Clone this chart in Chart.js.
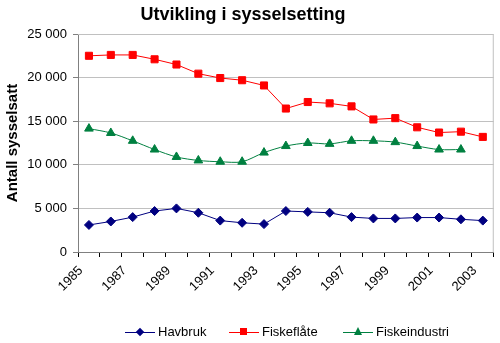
<!DOCTYPE html>
<html>
<head>
<meta charset="utf-8">
<script src="https://cdn.jsdelivr.net/npm/chart.js@4/dist/chart.umd.min.js"></script>
<style>
  html, body { margin: 0; padding: 0; background: #fff; }
  #wrap { position: relative; width: 500px; height: 343px; }
  #legend { position: absolute; left: 0; top: 323px; width: 500px; height: 18px;
    font: 13px "Liberation Sans", Arial, sans-serif; color: #000; }
  .item { position: absolute; top: 0; height: 18px; line-height: 18px; }
  .line { position: absolute; top: 9px; height: 1px; }
  .mark { position: absolute; }
  .txt { position: absolute; top: 0; white-space: nowrap; }
</style>
</head>
<body>
<div id="wrap">
  <canvas id="chart" width="500" height="343"></canvas>
  <div id="legend"></div>
</div>
<script>
const aar = ['1985','1986','1987','1988','1989','1990','1991','1992','1993','1994',
             '1995','1996','1997','1998','1999','2000','2001','2002','2003'];
const havbruk = [3100, 3500, 4000, 4700, 5000, 4500, 3600, 3350, 3200, 4700,
                 4600, 4500, 4000, 3850, 3850, 3950, 3950, 3750, 3600];
const fiskeflate = [22500, 22600, 22600, 22100, 21500, 20450, 19950, 19700, 19100, 16450,
                    17200, 17050, 16700, 15200, 15350, 14300, 13700, 13800, 13200];
const fiskeindustri = [14150, 13650, 12750, 11750, 10900, 10500, 10350, 10350, 11400, 12150,
                       12500, 12400, 12750, 12750, 12600, 12150, 11750, 11750, null];

const fontFam = '"Liberation Sans", Arial, sans-serif';

function tusen(v) {
  return String(v).replace(/\B(?=(\d{3})+(?!\d))/g, ' ');
}

// tittel og ramme rundt plottet
const ekstra = {
  id: 'ekstra',
  beforeDatasetsDraw(chart) {
    const a = chart.chartArea, ctx = chart.ctx;
    ctx.save();
    ctx.strokeStyle = '#c0c0c0';
    ctx.lineWidth = 1;
    ctx.beginPath();
    ctx.moveTo(a.left, a.top + 0.5);
    ctx.lineTo(a.right - 0.5, a.top + 0.5);
    ctx.lineTo(a.right - 0.5, a.bottom);
    ctx.stroke();
    ctx.restore();
  },
  afterDraw(chart) {
    const ctx = chart.ctx;
    ctx.save();
    ctx.font = 'bold 18px ' + fontFam;
    ctx.fillStyle = '#000';
    ctx.textAlign = 'center';
    ctx.textBaseline = 'middle';
    ctx.fillText('Utvikling i sysselsetting', 243, 15);
    ctx.restore();
  }
};

new Chart(document.getElementById('chart'), {
  type: 'line',
  data: {
    labels: aar,
    datasets: [{
      label: 'Havbruk',
      data: havbruk,
      borderColor: '#000080',
      backgroundColor: '#000080',
      pointStyle: 'rectRot',
      pointRadius: 4.5,
      borderWidth: 1,
      tension: 0
    }, {
      label: 'Fiskeflåte',
      data: fiskeflate,
      borderColor: '#ff0000',
      backgroundColor: '#ff0000',
      pointStyle: 'rect',
      pointRadius: 5,
      borderWidth: 1,
      tension: 0
    }, {
      label: 'Fiskeindustri',
      data: fiskeindustri,
      borderColor: '#008040',
      backgroundColor: '#008040',
      pointStyle: 'triangle',
      pointRadius: 5,
      borderWidth: 1,
      tension: 0.3
    }]
  },
  options: {
    responsive: false,
    animation: false,
    layout: { padding: { top: 34, right: 2, left: 0, bottom: 0 } },
    plugins: {
      legend: { display: false },
      title: { display: false },
      tooltip: { enabled: false }
    },
    scales: {
      x: {
        offset: true,
        grid: { display: true, drawOnChartArea: false, drawTicks: true, tickLength: 5, color: '#000', offset: true },
        border: { color: '#808080' },
        ticks: {
          autoSkip: false,
          maxRotation: 45,
          minRotation: 45,
          labelOffset: -8,
          padding: 6,
          color: '#000',
          font: { family: fontFam, size: 13 },
          callback: (v, i) => (i % 2 === 0 ? aar[i] : '')
        },
        afterFit: s => { s.height = 91; }
      },
      y: {
        min: 0,
        max: 25000,
        grid: { color: '#c0c0c0', tickLength: 5, tickColor: '#808080' },
        border: { color: '#808080' },
        ticks: {
          stepSize: 5000,
          padding: 6,
          color: '#000',
          font: { family: fontFam, size: 13 },
          callback: v => tusen(v)
        },
        title: {
          display: true,
          text: 'Antall sysselsatt',
          color: '#000',
          font: { family: fontFam, size: 15, weight: 'bold' },
          padding: { top: 4, bottom: 0 }
        },
        afterFit: s => { s.width = 78; }
      }
    }
  },
  plugins: [ekstra]
});

// forklaring under diagrammet
const serier = [
  { navn: 'Havbruk', farge: '#000080', form: 'diamond', x: 125 },
  { navn: 'Fiskeflåte', farge: '#ff0000', form: 'square', x: 229 },
  { navn: 'Fiskeindustri', farge: '#008040', form: 'triangle', x: 343 }
];
const legend = document.getElementById('legend');
serier.forEach(s => {
  const item = document.createElement('div');
  item.className = 'item';
  item.style.left = s.x + 'px';
  const line = document.createElement('div');
  line.className = 'line';
  line.style.left = '0px';
  line.style.width = '30px';
  line.style.background = s.farge;
  const mark = document.createElement('div');
  mark.className = 'mark';
  if (s.form === 'square') {
    mark.style.cssText = 'left:11px;top:5px;width:7px;height:7px;background:' + s.farge;
  } else if (s.form === 'diamond') {
    mark.style.cssText = 'left:12px;top:6px;width:6px;height:6px;transform:rotate(45deg);background:' + s.farge;
  } else {
    mark.style.cssText = 'left:11px;top:4px;width:0;height:0;border-left:4px solid transparent;border-right:4px solid transparent;border-bottom:8px solid ' + s.farge;
  }
  const txt = document.createElement('span');
  txt.className = 'txt';
  txt.style.left = '33px';
  txt.textContent = s.navn;
  item.appendChild(line);
  item.appendChild(mark);
  item.appendChild(txt);
  legend.appendChild(item);
});
</script>
</body>
</html>
